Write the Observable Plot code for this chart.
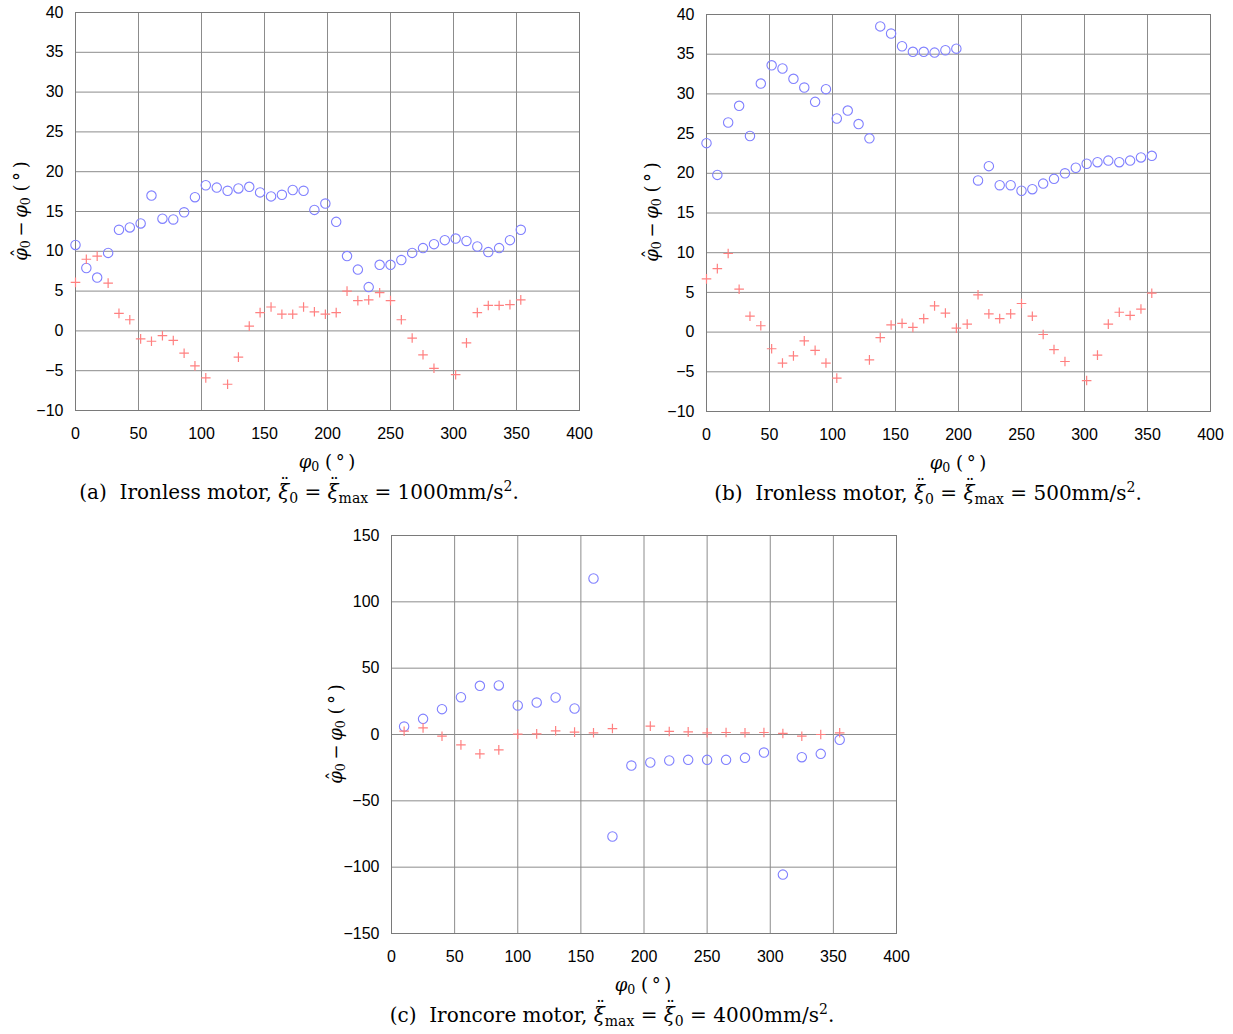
<!DOCTYPE html>
<html>
<head>
<meta charset="utf-8">
<script src="https://cdn.jsdelivr.net/npm/d3@7"></script>
<script src="https://cdn.jsdelivr.net/npm/@observablehq/plot@0.6"></script>
<style>
  html, body { margin: 0; padding: 0; background: white; }
  #page { position: relative; width: 1233px; height: 1034px; overflow: hidden; background: white; }
  .panel { position: absolute; }
  .lbl { position: absolute; white-space: nowrap; font-family: "DejaVu Serif", "Liberation Serif", serif; color: #000; line-height: 1; }
  .lbl sub { font-size: 70%; vertical-align: -0.25em; line-height: 0; }
  .lbl sup { font-size: 70%; vertical-align: 0.55em; line-height: 0; }
  .hat, .dd { position: relative; display: inline-block; font-style: italic; }
  .hat::after { content: "\02C6"; position: absolute; left: 0.18em; top: -0.08em; font-style: normal; }
  .dd::after { content: "\00A8"; position: absolute; left: 0.12em; top: -0.34em; font-style: normal; font-size: 90%; }
  .ylab { transform: translate(-50%, -50%) rotate(-90deg); font-size: 18px; }
  .xlab { transform: translate(-50%, -50%); font-size: 18px; }
  .cap { transform: translate(-50%, -50%); font-size: 20px; }
</style>
</head>
<body>
<div id="page"></div>
<script>
// ---------- data ----------
const xTicks = [0, 50, 100, 150, 200, 250, 300, 350, 400];
const yTicksAB = [-10, -5, 0, 5, 10, 15, 20, 25, 30, 35, 40];
const yTicksC = [-150, -100, -50, 0, 50, 100, 150];

// phi_0 (deg) for panels (a) and (b)
const phiAB = [0, 8.6, 17.2, 25.9, 34.5, 43.1, 51.7, 60.3, 69.0, 77.6, 86.2, 94.8, 103.4, 112.1,
  120.7, 129.3, 137.9, 146.5, 155.2, 163.8, 172.4, 181.0, 189.6, 198.3, 206.9, 215.5, 224.1,
  232.7, 241.4, 250.0, 258.6, 267.2, 275.8, 284.5, 293.1, 301.7, 310.3, 318.9, 327.6, 336.2,
  344.8, 353.4];

// (a) Ironless motor, 1000 mm/s^2
const circlesA = [10.8, 7.9, 6.7, 9.8, 12.7, 13.0, 13.5, 17.0, 14.1, 14.0, 14.9, 16.8, 18.3, 18.0,
  17.6, 17.9, 18.1, 17.4, 16.9, 17.1, 17.7, 17.6, 15.2, 16.0, 13.7, 9.4, 7.7, 5.5, 8.3, 8.3,
  8.9, 9.8, 10.4, 10.9, 11.4, 11.6, 11.3, 10.6, 9.9, 10.4, 11.4, 12.7];
const crossesA = [6.1, 9.0, 9.4, 6.0, 2.2, 1.4, -1.0, -1.3, -0.6, -1.2, -2.8, -4.4, -5.9, null,
  -6.7, -3.3, 0.6, 2.3, 3.0, 2.1, 2.1, 3.0, 2.4, 2.1, 2.3, 5.0, 3.8, 3.9, 4.8, 3.8, 1.4, -0.9,
  -3.0, -4.7, null, -5.5, -1.5, 2.3, 3.2, 3.2, 3.3, 3.9];

// (b) Ironless motor, 500 mm/s^2
const circlesB = [23.8, 19.8, 26.4, 28.5, 24.7, 31.3, 33.6, 33.2, 31.9, 30.8, 29.0, 30.6, 26.9,
  27.9, 26.2, 24.4, 38.5, 37.6, 36.0, 35.3, 35.3, 35.2, 35.5, 35.7, null, 19.1, 20.9, 18.5,
  18.5, 17.8, 18.0, 18.7, 19.3, 20.0, 20.7, 21.2, 21.4, 21.6, 21.4, 21.6, 22.0, 22.2];
const crossesB = [6.7, 8.0, 9.9, 5.4, 2.0, 0.8, -2.1, -3.9, -3.0, -1.1, -2.3, -3.9, -5.8, null,
  null, -3.5, -0.7, 0.9, 1.1, 0.6, 1.7, 3.3, 2.4, 0.5, 1.0, 4.7, 2.3, 1.7, 2.3, 3.6, 2.0, -0.3,
  -2.2, -3.7, null, -6.1, -2.9, 1.0, 2.5, 2.1, 2.9, 4.9];

// (c) Ironcore motor, 4000 mm/s^2
const phiC = [10, 25, 40, 55, 70, 85, 100, 115, 130, 145, 160, 175, 190, 205, 220, 235, 250,
  265, 280, 295, 310, 325, 340, 355];
const circlesC = [6.0, 11.8, 19.1, 28.1, 36.7, 37.0, 21.9, 24.1, 27.9, 19.6, 117.6, -76.9,
  -23.4, -21.1, -19.6, -19.1, -19.1, -19.1, -17.6, -13.6, -105.6, -17.1, -14.6, -4.0];
const crossesC = [2.5, 5.0, -1.3, -7.8, -14.6, -11.6, 0.3, 0.5, 2.8, 1.8, 1.3, 4.5, null, 6.3,
  2.3, 2.0, 1.3, 1.5, 1.3, 1.5, 0.8, -1.3, 0.0, 1.3];

// ---------- drawing ----------
const plusSymbol = {
  draw(ctx, size) {
    const r = Math.sqrt(size / Math.PI);
    ctx.moveTo(-r, 0); ctx.lineTo(r, 0);
    ctx.moveTo(0, -r); ctx.lineTo(0, r);
  }
};

function rows(xs, ys) {
  return xs.map((x, i) => ({x, y: ys[i]})).filter(d => d.y != null);
}

const fmt = d => d < 0 ? "\u2212" + Math.abs(d) : String(d);

function makePanel({phi, circ, cross, yDomain, yTicks, frameW, frameH}) {
  return Plot.plot({
    width: 75 + frameW + 20,
    height: 12 + frameH + 40,
    marginLeft: 75, marginRight: 20, marginTop: 12, marginBottom: 40,
    x: {domain: [0, 400]},
    y: {domain: yDomain},
    style: {fontFamily: "'Liberation Sans', Arial, sans-serif", fontSize: "16px", color: "#000", background: "transparent", overflow: "visible"},
    marks: [
      Plot.gridX(xTicks, {stroke: "#8c8c8c", strokeOpacity: 1}),
      Plot.gridY(yTicks, {stroke: "#8c8c8c", strokeOpacity: 1}),
      Plot.frame({stroke: "#7a7a7a"}),
      Plot.axisX(xTicks, {tickSize: 0, tickPadding: 17, label: null, tickFormat: fmt}),
      Plot.axisY(yTicks, {tickSize: 0, tickPadding: 12, label: null, tickFormat: fmt}),
      Plot.dot(rows(phi, circ), {x: "x", y: "y", r: 4.7, stroke: "#8080ff", fill: "none", strokeWidth: 1.1}),
      Plot.dot(rows(phi, cross), {x: "x", y: "y", r: 4.8, symbol: plusSymbol, stroke: "#ff8080", fill: "none", strokeWidth: 1.2})
    ]
  });
}

const page = document.getElementById("page");

function place(svg, left, top) {
  const div = document.createElement("div");
  div.className = "panel";
  div.style.left = left + "px";
  div.style.top = top + "px";
  div.appendChild(svg);
  page.appendChild(div);
}

function label(cls, html, x, y) {
  const d = document.createElement("div");
  d.className = "lbl " + cls;
  d.style.left = x + "px";
  d.style.top = y + "px";
  d.innerHTML = html;
  page.appendChild(d);
}

place(makePanel({phi: phiAB, circ: circlesA, cross: crossesA, yDomain: [-10, 40], yTicks: yTicksAB, frameW: 504, frameH: 398}), 0, 0);
place(makePanel({phi: phiAB, circ: circlesB, cross: crossesB, yDomain: [-10, 40], yTicks: yTicksAB, frameW: 504, frameH: 397}), 631, 2);
place(makePanel({phi: phiC, circ: circlesC, cross: crossesC, yDomain: [-150, 150], yTicks: yTicksC, frameW: 505, frameH: 398}), 316, 523);

const phiHat = '<span class="hat">φ</span>';
const xiDD = '<span class="dd">ξ</span>';
const deg = '(\u2009°\u2009)';
const yLab = phiHat + '<sub>0</sub>\u2009\u2212\u2009<i>φ</i><sub>0</sub> ' + deg;
const xLab = '<i>φ</i><sub>0</sub> ' + deg;

label("ylab", yLab, 21, 211);
label("ylab", yLab, 652, 212);
label("ylab", yLab, 336, 734);

label("xlab", xLab, 327, 462);
label("xlab", xLab, 958, 463);
label("xlab", xLab, 643, 985);

label("cap", '(a)&nbsp; Ironless motor, ' + xiDD + '<sub>0</sub> = ' + xiDD + '<sub>max</sub> = 1000mm/s<sup>2</sup>.', 299, 492);
label("cap", '(b)&nbsp; Ironless motor, ' + xiDD + '<sub>0</sub> = ' + xiDD + '<sub>max</sub> = 500mm/s<sup>2</sup>.', 928, 493);
label("cap", '(c)&nbsp; Ironcore motor, ' + xiDD + '<sub>max</sub> = ' + xiDD + '<sub>0</sub> = 4000mm/s<sup>2</sup>.', 612, 1015);
</script>
</body>
</html>
